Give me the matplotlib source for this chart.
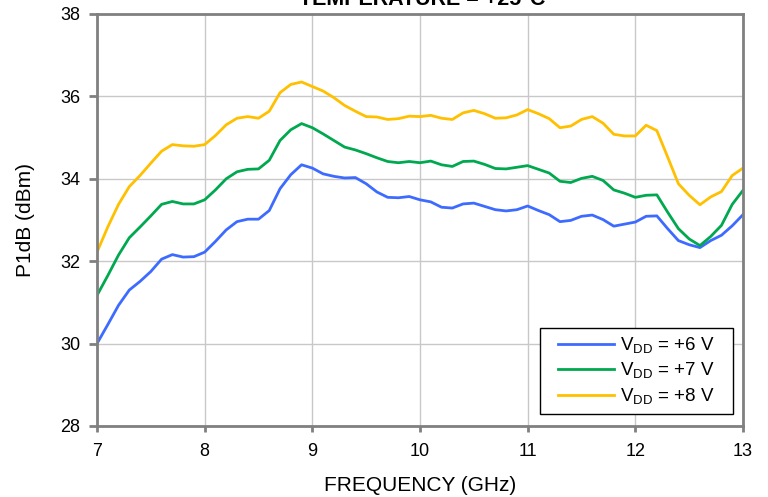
import numpy as np
import matplotlib
matplotlib.use('Agg')
import matplotlib.pyplot as plt
from matplotlib.patches import Rectangle
from matplotlib.ticker import MultipleLocator

plt.rcParams['font.family'] = ['Liberation Sans', 'DejaVu Sans']
plt.rcParams['mathtext.fontset'] = 'custom'
plt.rcParams['mathtext.rm'] = 'Liberation Sans'

# frequency points, 7 to 13 GHz in 0.1 GHz steps
freq = np.round(np.arange(7.0, 13.05, 0.1), 1)

p1db_6v = [30.0, 30.46, 30.93, 31.3, 31.51, 31.75, 32.05, 32.16, 32.1, 32.11,
           32.22, 32.48, 32.76, 32.96, 33.02, 33.02, 33.23, 33.76, 34.1, 34.34,
           34.26, 34.12, 34.06, 34.02, 34.03, 33.88, 33.68, 33.55, 33.54, 33.57,
           33.49, 33.44, 33.31, 33.29, 33.39, 33.41, 33.33, 33.25, 33.22, 33.25,
           33.34, 33.23, 33.13, 32.96, 32.99, 33.09, 33.12, 33.01, 32.85, 32.9,
           32.95, 33.09, 33.1, 32.79, 32.5, 32.4, 32.33, 32.5, 32.63, 32.86,
           33.13]
p1db_7v = [31.17, 31.65, 32.15, 32.57, 32.83, 33.1, 33.38, 33.45, 33.39, 33.39,
           33.49, 33.73, 34.0, 34.17, 34.23, 34.24, 34.45, 34.93, 35.19, 35.34,
           35.24, 35.09, 34.93, 34.77, 34.7, 34.61, 34.51, 34.42, 34.39, 34.42,
           34.39, 34.43, 34.34, 34.3, 34.42, 34.43, 34.35, 34.25, 34.24, 34.28,
           34.32, 34.23, 34.14, 33.94, 33.91, 34.01, 34.06, 33.96, 33.73, 33.65,
           33.55, 33.6, 33.61, 33.19, 32.79, 32.54, 32.38, 32.6, 32.87, 33.38,
           33.72]
p1db_8v = [32.22, 32.83, 33.38, 33.81, 34.08, 34.38, 34.67, 34.83, 34.8, 34.79,
           34.83, 35.05, 35.31, 35.47, 35.51, 35.47, 35.64, 36.09, 36.29, 36.35,
           36.24, 36.13, 35.97, 35.78, 35.64, 35.51, 35.5, 35.44, 35.46, 35.52,
           35.51, 35.54, 35.47, 35.44, 35.6, 35.66, 35.58, 35.47, 35.48, 35.55,
           35.68, 35.58, 35.46, 35.24, 35.28, 35.44, 35.51, 35.35, 35.08, 35.04,
           35.04, 35.3, 35.17, 34.53, 33.88, 33.6, 33.37, 33.56, 33.69, 34.08,
           34.26]

labels = [r'V$_{\mathrm{DD}}$ = +6 V', r'V$_{\mathrm{DD}}$ = +7 V', r'V$_{\mathrm{DD}}$ = +8 V']
colors = ['#3D6BFF', '#00A84F', '#FFC000']

fig = plt.figure(figsize=(7.68, 4.97), dpi=100)
ax = fig.add_axes([97/768, 1 - 426/497, (743 - 97)/768, (426 - 14)/497])

for y, lab, c in zip([p1db_6v, p1db_7v, p1db_8v], labels, colors):
    ax.plot(freq, y, color=c, lw=2, label=lab)

ax.set_xlim(7, 13)
ax.set_ylim(28, 38)
ax.xaxis.set_major_locator(MultipleLocator(1))
ax.yaxis.set_major_locator(MultipleLocator(2))
ax.grid(True, color='#C8C8C8', lw=1)
ax.set_axisbelow(True)
for s in ax.spines.values():
    s.set_color('#808080')
    s.set_linewidth(2)
ax.tick_params(axis='both', labelsize=13, color='#808080', width=2)
ax.tick_params(axis='y', length=6, pad=6)
ax.tick_params(axis='x', length=4, pad=8)

ax.set_xlabel('FREQUENCY (GHz)', fontsize=15, labelpad=12)
ax.set_ylabel('P1dB (dBm)', fontsize=15, labelpad=18)
fig.text(422/768, 1 - 5/497, 'TEMPERATURE = +25°C', ha='center', va='baseline',
         fontsize=15.5, fontweight='bold')

# legend box: drawn as its own frame so the inner padding can be wider
box = Rectangle((0.686, 0.029), 0.299, 0.209, transform=ax.transAxes,
                facecolor='white', edgecolor='black', lw=1, zorder=4)
ax.add_patch(box)
leg = ax.legend(loc='center', bbox_to_anchor=(0.835, 0.1335), fontsize=13.5,
                frameon=False, handlelength=3.0, handletextpad=0.3,
                borderpad=0, labelspacing=0.28)
leg.set_zorder(5)

fig.savefig('out.png', dpi=100)
